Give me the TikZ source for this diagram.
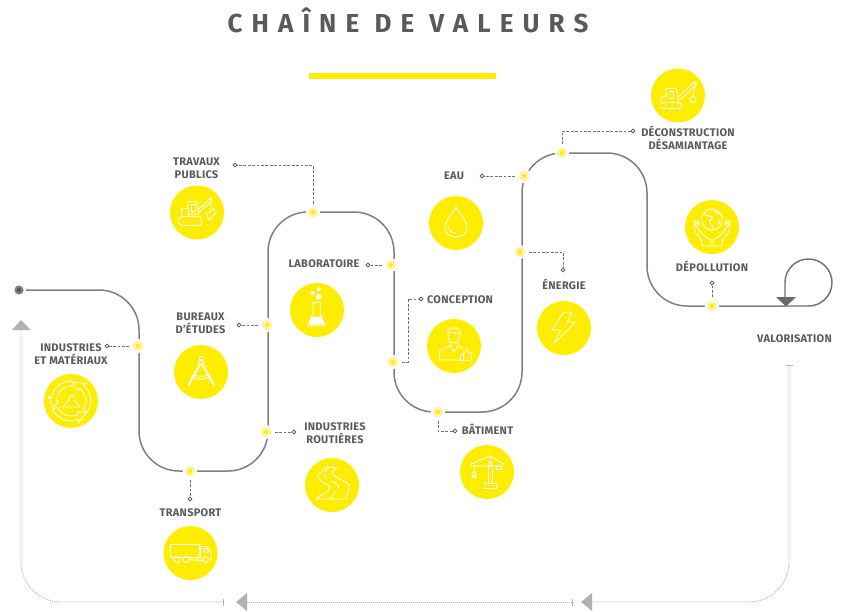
\documentclass[tikz,border=0pt]{standalone}
\usepackage{fontspec}
\setmainfont{Fira Sans}
\newfontfamily\lblfont[LetterSpace=2.5]{Fira Sans}
\newfontfamily\ttlfont[LetterSpace=35]{Fira Sans}
\usetikzlibrary{calc}
\definecolor{ylw}{HTML}{FFED00}
\definecolor{halo}{HTML}{FFF3A6}
\definecolor{txt}{HTML}{5A5A5C}
\definecolor{pathc}{HTML}{808080}
\definecolor{dotc}{HTML}{B2B2B2}
\tikzset{
  x=1pt,y=-1pt,
  disc/.style={circle,fill=ylw,minimum size=54pt,inner sep=0pt},
  lbl/.style={font=\lblfont\bfseries\fontsize{11}{13}\selectfont,text=txt,align=center,inner sep=0pt},
  stop/.style={circle,fill=ylw,draw=halo,line width=2.8pt,minimum size=7.5pt,inner sep=0pt,
     preaction={draw=white,line width=6.5pt}},
  endc/.style={circle,draw=txt,fill=white,line width=.7pt,minimum size=3.8pt,inner sep=0pt},
  leader/.style={draw=txt!85,line width=.8pt,dash pattern=on 2.8pt off 1.6pt},
  ret/.style={draw=dotc,line width=.9pt,dash pattern=on 1pt off 1pt},
  ico/.style={draw=white,line width=.85pt,line join=round,line cap=round},
}
\begin{document}
\begin{tikzpicture}
\useasboundingbox (0,0) rectangle (843,611);
% title
\node[font=\ttlfont\bfseries\fontsize{26}{30}\selectfont,text=txt,inner sep=0pt] (title) at (408,20) {CHAÎNE DE VALEURS};
\fill[ylw] (309,73) rectangle (496,79);
% return dotted
\coordinate (r0) at (789,365);
\coordinate (r1) at (592,602);
\coordinate (r2) at (572,602);
\coordinate (r3) at (247,602);
\coordinate (r4) at (223,602);
\coordinate (r5) at (21,330);
\draw[ret,rounded corners=40] (r0) |- (r1);
\draw[ret] (r2) -- (r3);
\draw[ret,rounded corners=40] (r4) -| (r5);
\draw[dotc,line width=.9pt] (785.5,365) -- (793,365);
\draw[dotc,line width=.9pt] (r2)+(0,-3.5) -- +(0,3.5);
\draw[dotc,line width=.9pt] (r4)+(0,-3.5) -- +(0,3.5);
\fill[dotc] (581,602) -- (592,593) -- (592,611) -- cycle;
\fill[dotc] (236,602) -- (247,593) -- (247,611) -- cycle;
\fill[dotc] (21,320) -- (12,330) -- (31,330) -- cycle;
% main path
\node[circle,fill=pathc!70!black,draw=pathc,line width=2pt,minimum size=7pt,inner sep=0pt] (start) at (19,290) {};
\draw[pathc,line width=1.5pt,rounded corners=40]
 (26,290) -- (139,290) -- (139,471) -- (268,471) -- (268,212) -- (394,212) -- (394,412) -- (522,412) -- (522,153) -- (647,153) -- (647,306) -- (785,306);
\draw[pathc!85!black,line width=1.4pt] (785,306) -- (808.5,306) arc[start angle=90,end angle=-180,radius=23.5] -- (785,300);
\fill[txt!90] (786,306.5) -- (776,297) -- (796,297) -- cycle;
% discs
\node[disc] (d1) at (71,401) {};
\node[disc] (d2) at (201,372) {};
\node[disc] (d3) at (190.5,553) {};
\node[disc] (d4) at (197,212.5) {};
\node[disc] (d5) at (317,310) {};
\node[disc] (d6) at (332,485) {};
\node[disc] (d7) at (454,346) {};
\node[disc] (d8) at (456,223) {};
\node[disc] (d9) at (487,472) {};
\node[disc] (d10) at (564,328) {};
\node[disc] (d11) at (678,95.5) {};
\node[disc] (d12) at (712,227) {};
% leader ends
\node[endc] (e1) at (107,346) {};
\node[endc] (e2) at (239,325) {};
\node[endc] (e3) at (190,499) {};
\node[endc] (e4) at (235,165) {};
\node[endc] (e5) at (368,265) {};
\node[endc] (e6) at (294,432) {};
\node[endc] (e7) at (421,299) {};
\node[endc] (e8) at (482,176) {};
\node[endc] (e9) at (455,431) {};
\node[endc] (e10) at (563,270) {};
\node[endc] (e11) at (633,131) {};
\node[endc] (e12) at (712,283) {};
% stops
\coordinate (s1) at (138,346);
\coordinate (s2) at (267,325);
\coordinate (s3) at (190,471);
\coordinate (s4) at (313,212.5);
\coordinate (s5) at (391,265);
\coordinate (s6) at (266,432);
\coordinate (s7) at (393,362);
\coordinate (s8) at (524,176);
\coordinate (s9) at (438,412);
\coordinate (s10) at (520,252);
\coordinate (s11) at (562,153);
\coordinate (s12) at (712,306);
\draw[leader] (s1) -- (e1);
\draw[leader] (s2) -- (e2);
\draw[leader] (s3) -- (e3);
\draw[leader] (s4) |- (e4);
\draw[leader] (s5) -- (e5);
\draw[leader] (s6) -- (e6);
\draw[leader] (s7) -- (408,362) |- (e7);
\draw[leader] (s8) -- (e8);
\draw[leader] (s9) |- (e9);
\draw[leader] (s10) -| (e10);
\draw[leader] (s11) |- (e11);
\draw[leader] (s12) -- (e12);
\foreach \i in {1,...,12} \node[stop] (n\i) at (s\i) {};
\foreach \i in {1,...,12} \node[endc] at (e\i) {};
% labels
\node[lbl] (l1) at (71,353.7) {INDUSTRIES\\ET MATÉRIAUX};
\node[lbl] (l2) at (200.5,323) {BUREAUX\\D’ÉTUDES};
\node[lbl] (l3) at (190.5,512.5) {TRANSPORT};
\node[lbl] (l4) at (196.5,168.2) {TRAVAUX\\PUBLICS};
\node[lbl] (l5) at (324,263.7) {LABORATOIRE};
\node[lbl] (l6) at (335,433.2) {INDUSTRIES\\ROUTIÈRES};
\node[lbl] (l7) at (460,299.7) {CONCEPTION};
\node[lbl] (l8) at (454,175.7) {EAU};
\node[lbl] (l9) at (487.5,429.5) {BÂTIMENT};
\node[lbl] (l10) at (564,284.5) {ÉNERGIE};
\node[lbl] (l11) at (688,138) {DÉCONSTRUCTION\\DÉSAMIANTAGE};
\node[lbl] (l12) at (712,266.5) {DÉPOLLUTION};
\node[lbl] (l13) at (794.5,338.7) {VALORISATION};
% icons
% 1 recycling
\begin{scope}[shift={(d1)}]
 \foreach \r in {0,120,240}{
  \draw[ico,rotate=\r] (155:15) arc[start angle=155,end angle=62,radius=15]
     -- (60:12.5) -- (38:19) -- (72:23.5) -- (67:20)
     arc[start angle=67,end angle=155,radius=20] -- cycle;
 }
 \draw[ico] (-8,6) -- (-4,1) -- (-2,-1) -- (0,-6) -- (3,-5) -- (4,0) -- (9,6) -- cycle;
\end{scope}
% 2 compass
\begin{scope}[shift={(d2)}]
 \draw[ico] (-1.5,-16) rectangle (1.5,-12);
 \draw[ico] (0,-10) circle (2.4);
 \draw[ico] (-2,-8) -- (-13,13) -- (-12,13.5) -- (-.5,-7.5);
 \draw[ico] (2,-8) -- (13.5,13) -- (12.5,13.5) -- (.5,-7.5);
 \draw[ico] (-9,5) .. controls (-4,8) and (4,8) .. (9,5);
 \draw[ico] (-8,2.5) .. controls (-4,5) and (4,5) .. (8,2.5);
\end{scope}
% 3 truck
\begin{scope}[shift={(d3)}]
 \draw[ico] (-20,-9) rectangle (8.5,4.5);
 \draw[ico] (10,-6.5) -- (17,-6.5) -- (20.5,-1) -- (20.5,7) -- (18,7);
 \draw[ico] (10,-6.5) -- (10,5);
 \draw[ico] (13,-4.5) -- (16.5,-4.5) -- (18.5,-1) -- (13,-1) -- cycle;
 \draw[ico] (-13.5,6.5) circle (3); \draw[ico] (-4.5,6.5) circle (3); \draw[ico] (15,6.5) circle (3);
 \draw[ico] (-1.5,6.5) -- (12,7.5);
 \draw[ico] (-1.5,4.5) -- (10,5);
\end{scope}
% 4 excavator
\begin{scope}[shift={(d4)}]
 \draw[ico,rounded corners=4] (-19,4) rectangle (5,13);
 \draw[ico] (-16,4) -- (-16,-4) -- (-9,-4) -- (-9,4);
 \draw[ico] (-9,-4) -- (-9,-11) -- (0,-11) -- (2,1.5) -- (-9,1.5);
 \draw[ico] (-6,-8) rectangle (-2,-1);
 \draw[ico] (1,-3) -- (14,-14.5) -- (15,-11.5) -- (2,-.5);
 \draw[ico] (12,-9) -- (19,0) -- (12,8) -- (9,1) -- (14,-1) -- (13,-4);
\end{scope}
% 5 flask
\begin{scope}[shift={(d5)}]
 \fill[white] (-4.3,-17) circle (2); \fill[white] (1.7,-20.7) circle (2); \fill[white] (1.7,-13.3) circle (3);
 \draw[ico] (-5,-7.3) -- (4.3,-7.3);
 \draw[ico] (-4,-7.3) -- (-4,3.3) -- (-9,16) -- (8.3,16) -- (3.3,3.3) -- (3.3,-7.3);
 \fill[white] (-6,6.5) -- (5,6.5) -- (7,14.5) -- (-7.5,14.5) -- cycle;
\end{scope}
% 6 road
\begin{scope}[shift={(d6)}]
 \draw[ico] (-5,-18) -- (5,-18);
 \draw[ico] (-5,-18) .. controls (-10,-13) and (-15,-11) .. (-14,-8) .. controls (-12,-3) and (-2,0) .. (-2,2) .. controls (-2,5) and (-10,10) .. (-16,14) -- (14,14);
 \draw[ico] (5,-18) .. controls (0,-14) and (-1,-12) .. (1,-10) .. controls (6,-6) and (16,-3) .. (17,0) .. controls (17,4) and (15,10) .. (14,14);
 \draw[ico] (-5,-16) .. controls (-7,-12) and (-8,-9) .. (-5,-7);
 \draw[ico] (-1,-4) .. controls (4,-2) and (8,1) .. (6,4);
 \draw[ico] (3,7) -- (-2,14);
\end{scope}
% 7 person
\begin{scope}[shift={(d7)}]
 \draw[ico] (-6,-14) .. controls (-8,-17) and (-3,-18) .. (0,-18) .. controls (3,-18) and (7,-17) .. (6,-12) .. controls (6,-8) and (4,-3) .. (0,-3) .. controls (-4,-3) and (-6,-8) .. (-6,-14) -- cycle;
 \draw[ico] (-6,-14) .. controls (-2,-13) and (3,-14) .. (6,-12);
 \draw[ico] (-4,-4) -- (-4,0) -- (-14,4) -- (-15,14) -- (6,14);
 \draw[ico] (4,-4) -- (4,0) -- (9,2);
 \draw[ico] (-4,0) -- (0,6) -- (4,0);
 \draw[ico] (6,8) rectangle (9,14.5);
 \draw[ico] (9,8) -- (12,5) -- (12,3) -- (14,3) -- (14,7) -- (18,7) -- (17,14.5) -- (9,14.5);
\end{scope}
% 8 drop
\begin{scope}[shift={(d8)}]
 \draw[ico] (0,-16) .. controls (3,-9) and (11,-3) .. (11,5) .. controls (11,11) and (6,14) .. (0,14) .. controls (-6,14) and (-11,11) .. (-11,5) .. controls (-11,-3) and (-3,-9) .. (0,-16) -- cycle;
 \draw[ico] (-8,3) .. controls (-8,7) and (-5,9) .. (-1,10);
\end{scope}
% 9 crane
\begin{scope}[shift={(d9)}]
 \draw[ico] (-15.5,-8.5) -- (3,-16) -- (15.5,-8.5) -- (15.5,-6) -- (-15.5,-6) -- cycle;
 \draw[ico] (3,-16) -- (3,-9);
 \draw[ico] (3,-8) circle (2);
 \draw[ico] (1,-6) -- (1,11); \draw[ico] (5,-6) -- (5,11);
 \draw[ico] (-3,11) rectangle (9,16);
 \draw[ico] (-13,-6) -- (-13,0);
 \draw[ico] (-13,2) circle (2.2);
 \draw[ico] (-13,4.5) -- (-13,7);
 \draw[ico] (-15,6) arc[start angle=180,end angle=360,radius=2];
 \draw[ico] (9,-6) rectangle (14,-3);
\end{scope}
% 10 bolt
\begin{scope}[shift={(d10)}]
 \draw[ico] (-.5,-15.7) -- (8,-15.7) -- (3,-5.7) -- (11.3,-5.7) -- (-9.7,15.3) -- (-3.7,2) -- (-12,2) -- cycle;
\end{scope}
% 11 demolition
\begin{scope}[shift={(d11)}]
 \draw[ico,rounded corners=3] (-17,7) rectangle (4,13);
 \draw[ico] (-17,7) -- (-17,1) -- (-12,1) -- (-12,-7) -- (-2,-7) -- (1,7);
 \draw[ico] (-9,-4) rectangle (-5,3);
 \draw[ico] (1,1) -- (17,-14) -- (18.5,-11.5) -- (3,4);
 \draw[ico] (17.5,-12) -- (15,0);
 \draw[ico] (15,4) circle (3.2);
 \fill[white] (-12,10) circle (.8) (-6,10) circle (.8) (0,10) circle (.8);
\end{scope}
% 12 globe & hands
\begin{scope}[shift={(d12)}]
 \draw[ico] (0,-7.5) circle (10.5);
 \draw[ico] (-8,-13) .. controls (-4,-10) and (-2,-12) .. (0,-10) .. controls (2,-8) and (-4,-7) .. (-2,-4) .. controls (0,-2) and (2,-1) .. (1,2);
 \draw[ico] (2,-17) .. controls (3,-14) and (7,-14) .. (9,-12);
 \draw[ico] (5,-8) .. controls (8,-8) and (8,-5) .. (6,-3);
 \draw[ico] (-1,19) -- (-1,13) -- (-9,8) -- (-15,0) -- (-18,-5) -- (-17,-6) -- (-13,-2) -- (-13,-5) -- (-15,-6);
 \draw[ico] (-1,19) -- (-10,19) -- (-10,14) -- (-17,5) -- (-18,-5);
 \draw[ico] (1,19) -- (1,13) -- (9,8) -- (15,0) -- (18,-5) -- (17,-6) -- (13,-2) -- (13,-5) -- (15,-6);
 \draw[ico] (1,19) -- (10,19) -- (10,14) -- (17,5) -- (18,-5);
\end{scope}
\end{tikzpicture}
\end{document}
